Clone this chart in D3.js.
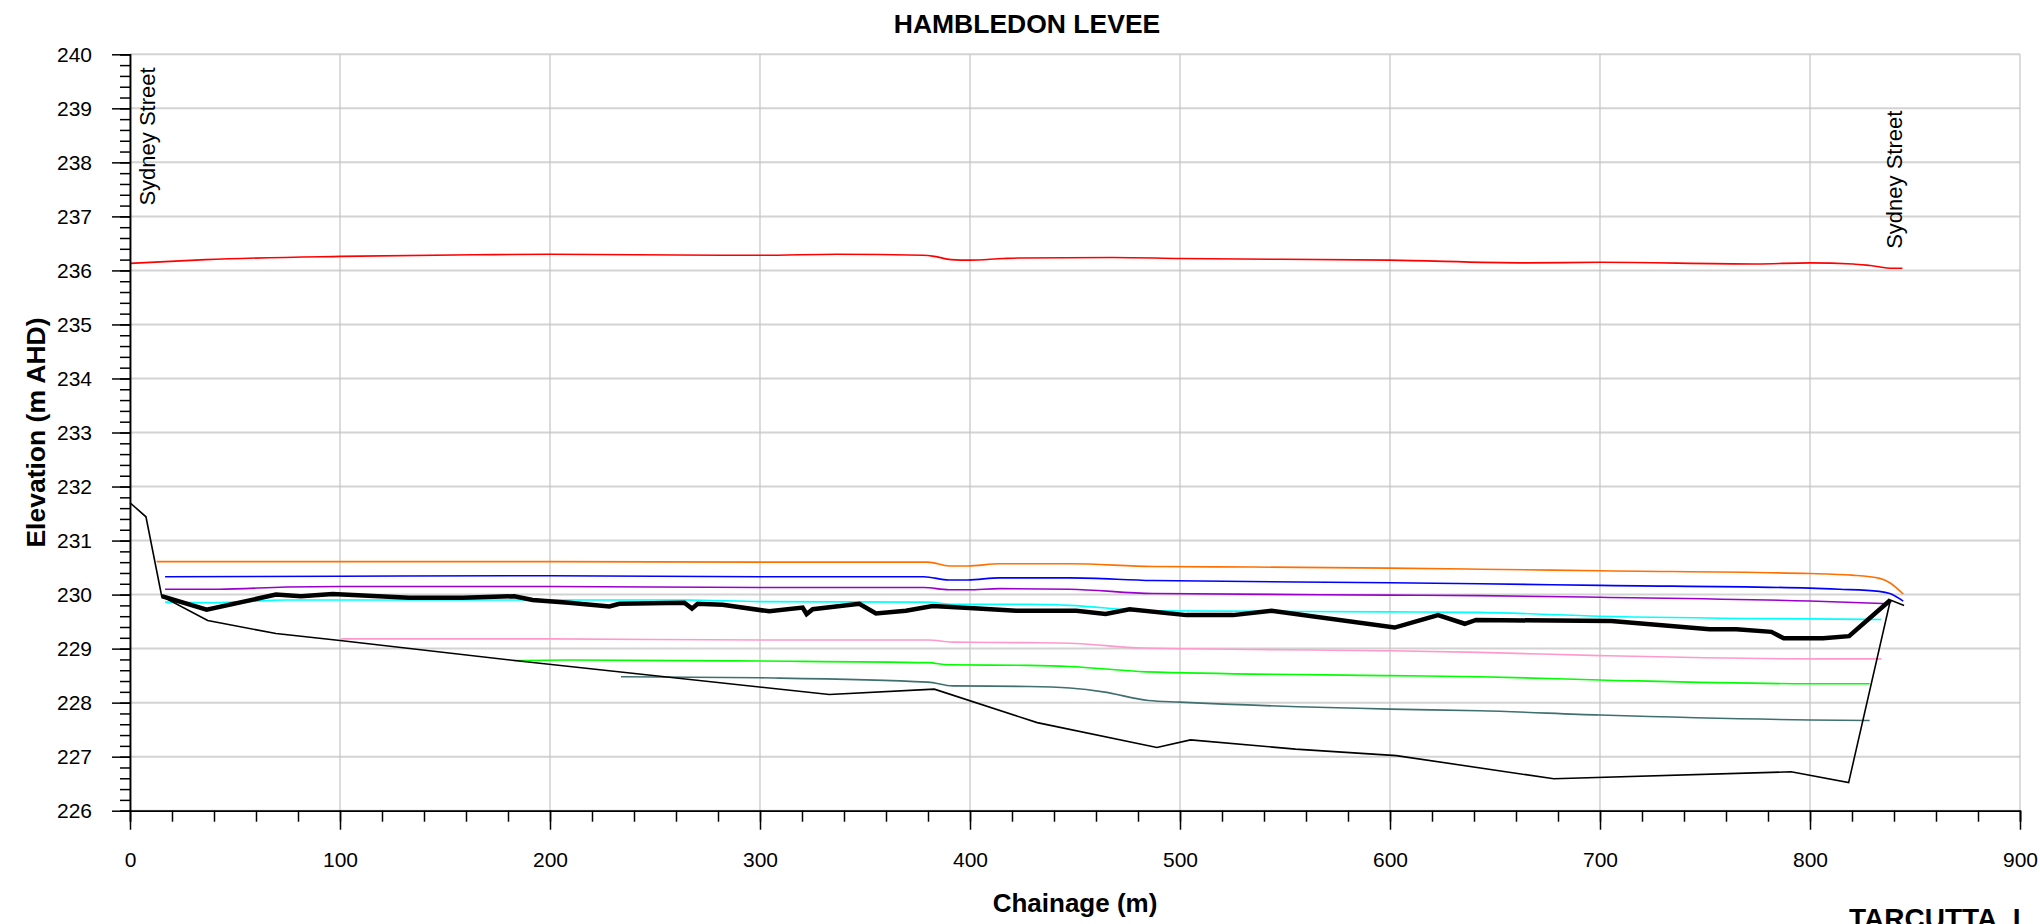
<!DOCTYPE html>
<html>
<head>
<meta charset="utf-8">
<script src="https://cdn.jsdelivr.net/npm/d3@7"></script>
<style>
  html, body { margin: 0; padding: 0; background: #fff; }
  svg { display: block; font-family: "Liberation Sans", Arial, sans-serif; }
</style>
</head>
<body>
<svg id="chart" width="2040" height="924"></svg>
<script>
// ---- Long-section data: chainage (m) vs elevation (m AHD) ----
const xTicks = [0, 100, 200, 300, 400, 500, 600, 700, 800, 900];
const yTicks = [226, 227, 228, 229, 230, 231, 232, 233, 234, 235, 236, 237, 238, 239, 240];

const redCh = [0, 36, 100, 164.5, 200, 282, 300, 336.6, 377.6, 383, 391, 400, 415.8, 423.5, 468, 500, 600, 664.8, 700, 774, 800, 820.5, 828.7, 839.6, 844];
const redEl = [236.13, 236.20, 236.26, 236.29, 236.30, 236.28, 236.28, 236.30, 236.28, 236.26, 236.20, 236.19, 236.22, 236.23, 236.24, 236.22, 236.19, 236.14, 236.15, 236.12, 236.14, 236.12, 236.09, 236.04, 236.04];

const orangeCh = [12.7, 100, 200, 300, 379.8, 390.2, 398.9, 414, 447.5, 487, 534.8, 600, 642.7, 700, 800, 820, 833.2, 838, 844.4];
const orangeEl = [230.61, 230.61, 230.61, 230.60, 230.60, 230.53, 230.53, 230.57, 230.57, 230.52, 230.51, 230.49, 230.47, 230.44, 230.39, 230.36, 230.30, 230.22, 230.01];

const blueCh = [16.7, 100, 200, 300, 378, 390, 399, 414, 447.5, 487, 600, 642.7, 700, 800, 814, 833, 838, 844.4];
const blueEl = [230.33, 230.34, 230.35, 230.33, 230.33, 230.27, 230.27, 230.31, 230.31, 230.26, 230.22, 230.20, 230.17, 230.12, 230.10, 230.06, 230.02, 229.88];

const purpleCh = [16.7, 42.5, 74.3, 100, 200, 300, 378, 390, 399, 414, 447.5, 487, 600, 642.7, 700, 800, 838];
const purpleEl = [230.10, 230.10, 230.14, 230.15, 230.15, 230.13, 230.13, 230.09, 230.09, 230.11, 230.10, 230.02, 229.99, 229.98, 229.95, 229.88, 229.83];

const cyanCh = [16.7, 39.7, 74.6, 100, 200, 264.8, 300, 380, 391.7, 428, 447.5, 487, 600, 642.7, 700, 800, 834];
const cyanEl = [229.86, 229.85, 229.90, 229.90, 229.90, 229.90, 229.87, 229.86, 229.82, 229.82, 229.80, 229.70, 229.68, 229.67, 229.60, 229.55, 229.54];

const pinkCh = [100.5, 200, 300, 380, 391.7, 428, 447.5, 482.4, 600, 642.7, 700, 800, 834];
const pinkEl = [229.18, 229.18, 229.16, 229.16, 229.12, 229.11, 229.10, 229.01, 228.96, 228.93, 228.87, 228.81, 228.81];

const greenCh = [182.7, 209, 300, 380, 390, 428, 447.5, 484, 600, 642.7, 700, 800, 828.4];
const greenEl = [228.78, 228.79, 228.77, 228.74, 228.70, 228.69, 228.67, 228.57, 228.50, 228.48, 228.42, 228.35, 228.35];

const slateCh = [233.8, 300, 380, 391.7, 428, 447.5, 463.4, 485, 500, 600, 642.7, 700, 800, 828.4];
const slateEl = [228.48, 228.46, 228.38, 228.31, 228.30, 228.27, 228.20, 228.04, 228.01, 227.88, 227.85, 227.77, 227.68, 227.67];

// natural surface along the alignment
const groundCh = [0, 7.6, 15.1, 37, 69.5, 100, 183, 333, 383, 432, 489, 505, 555, 603, 678, 791, 818.4, 838.3, 844.8];
const groundEl = [231.70, 231.44, 229.97, 229.52, 229.28, 229.15, 228.78, 228.15, 228.25, 227.63, 227.17, 227.31, 227.14, 227.02, 226.59, 226.72, 226.52, 229.90, 229.80];

// levee crest
const crestCh = [15.1, 36.5, 69.5, 81.4, 96.5, 133, 158.4, 183, 191.7, 209, 228.3, 233, 264, 267.6, 270.3, 282.2, 304.4, 320.3, 322.2, 325.1, 347.3, 355.2, 369.5, 382.2, 399.7, 422, 450.6, 464.6, 476, 503, 525.2, 543.6, 602.2, 622.9, 635.6, 641, 705.4, 752.2, 764.9, 781.6, 787.5, 806.2, 818.6, 838.3];
const crestEl = [229.97, 229.72, 230.00, 229.97, 230.01, 229.94, 229.94, 229.97, 229.90, 229.85, 229.78, 229.83, 229.85, 229.74, 229.83, 229.81, 229.69, 229.76, 229.64, 229.73, 229.83, 229.65, 229.70, 229.79, 229.75, 229.70, 229.70, 229.64, 229.73, 229.62, 229.62, 229.70, 229.39, 229.62, 229.46, 229.53, 229.51, 229.36, 229.36, 229.31, 229.19, 229.19, 229.23, 229.90];

const streetLabels = ["Sydney Street", "Sydney Street"];
const streetCh = [12, 844];
const streetEl = [237.2, 236.4];

// ---- Layout ----
const svg = d3.select("#chart");
const W = 2040, H = 924;
const plotLeft = 130, plotRight = 2020, plotTop = 54.3, plotBottom = 810.7;

svg.append("rect").attr("width", W).attr("height", H).attr("fill", "#fff");

const x = d3.scaleLinear().domain([0, 900]).range([plotLeft, plotRight]);
const y = d3.scaleLinear().domain([226, 240]).range([plotBottom, plotTop]);

// grid
const grid = svg.append("g");
grid.selectAll("line.h").data(yTicks).join("line")
  .attr("class", "h")
  .attr("x1", plotLeft).attr("x2", plotRight)
  .attr("y1", d => y(d)).attr("y2", d => y(d))
  .attr("stroke", "#d3d3d3").attr("stroke-width", 2);
grid.selectAll("line.v").data(xTicks).join("line")
  .attr("class", "v")
  .attr("x1", d => x(d)).attr("x2", d => x(d))
  .attr("y1", plotTop).attr("y2", plotBottom)
  .attr("stroke", "#c4c4c4").attr("stroke-width", 1.2);

// series
const series = [
  { ch: redCh, el: redEl, color: "#ff0000", w: 1.6, smooth: true },
  { ch: orangeCh, el: orangeEl, color: "#ff7000", w: 1.6, smooth: true },
  { ch: blueCh, el: blueEl, color: "#0000ff", w: 1.6, smooth: true },
  { ch: purpleCh, el: purpleEl, color: "#9900cc", w: 1.6, smooth: true },
  { ch: cyanCh, el: cyanEl, color: "#00ffff", w: 1.6, smooth: true },
  { ch: pinkCh, el: pinkEl, color: "#ff99cc", w: 1.6, smooth: true },
  { ch: greenCh, el: greenEl, color: "#00ff00", w: 1.6, smooth: true },
  { ch: slateCh, el: slateEl, color: "#3f6f6f", w: 1.6, smooth: true },
  { ch: groundCh, el: groundEl, color: "#000000", w: 1.6, smooth: false },
  { ch: crestCh, el: crestEl, color: "#000000", w: 4.5, smooth: false }
];

const plot = svg.append("g");
series.forEach(s => {
  const pts = s.ch.map((c, i) => [c, s.el[i]]);
  const line = d3.line()
    .x(d => x(d[0])).y(d => y(d[1]))
    .curve(s.smooth ? d3.curveMonotoneX : d3.curveLinear);
  plot.append("path").datum(pts)
    .attr("d", line)
    .attr("fill", "none")
    .attr("stroke", s.color)
    .attr("stroke-width", s.w)
    .attr("stroke-linejoin", "miter");
});

// axes
const minorY = d3.range(226, 240.001, 0.2);
const minorX = d3.range(0, 900.001, 20);

const yMinor = svg.append("g").attr("transform", `translate(${plotLeft},0)`)
  .call(d3.axisLeft(y).tickValues(minorY).tickSize(10).tickFormat(""));
const yMajor = svg.append("g").attr("transform", `translate(${plotLeft},0)`)
  .call(d3.axisLeft(y).tickValues(yTicks).tickSize(18).tickSizeOuter(0).tickPadding(20).tickFormat(d3.format("d")));
const xMinor = svg.append("g").attr("transform", `translate(0,${plotBottom})`)
  .call(d3.axisBottom(x).tickValues(minorX).tickSize(11).tickFormat(""));
const xMajor = svg.append("g").attr("transform", `translate(0,${plotBottom})`)
  .call(d3.axisBottom(x).tickValues(xTicks).tickSize(19).tickSizeOuter(0).tickPadding(22).tickFormat(d3.format("d")));

[yMinor, yMajor, xMinor, xMajor].forEach(g => {
  g.selectAll("line").attr("stroke", "#000").attr("stroke-width", 1.5);
  g.select(".domain").attr("stroke", "#000").attr("stroke-width", 1.5);
  g.selectAll("text").attr("fill", "#000")
    .style("font-family", "'Liberation Sans', Arial, sans-serif")
    .style("font-size", "21px");
});

// street annotations
svg.selectAll("text.street").data(streetLabels).join("text")
  .attr("class", "street")
  .attr("transform", (d, i) => `translate(${x(streetCh[i])},${y(streetEl[i])}) rotate(-90)`)
  .attr("font-size", 22)
  .attr("fill", "#000")
  .text(d => d);

// titles
svg.append("text")
  .attr("x", 1027).attr("y", 33)
  .attr("text-anchor", "middle")
  .attr("font-size", 26.5).attr("font-weight", "bold")
  .text("HAMBLEDON LEVEE");

svg.append("text")
  .attr("x", (plotLeft + plotRight) / 2).attr("y", 912)
  .attr("text-anchor", "middle")
  .attr("font-size", 26).attr("font-weight", "bold")
  .text("Chainage (m)");

svg.append("text")
  .attr("transform", `translate(45,${(plotTop + plotBottom) / 2}) rotate(-90)`)
  .attr("text-anchor", "middle")
  .attr("font-size", 26.5).attr("font-weight", "bold")
  .text("Elevation (m AHD)");

svg.append("text")
  .attr("x", 1849).attr("y", 928)
  .attr("font-size", 28).attr("font-weight", "bold")
  .text("TARCUTTA_L");
</script>
</body>
</html>
